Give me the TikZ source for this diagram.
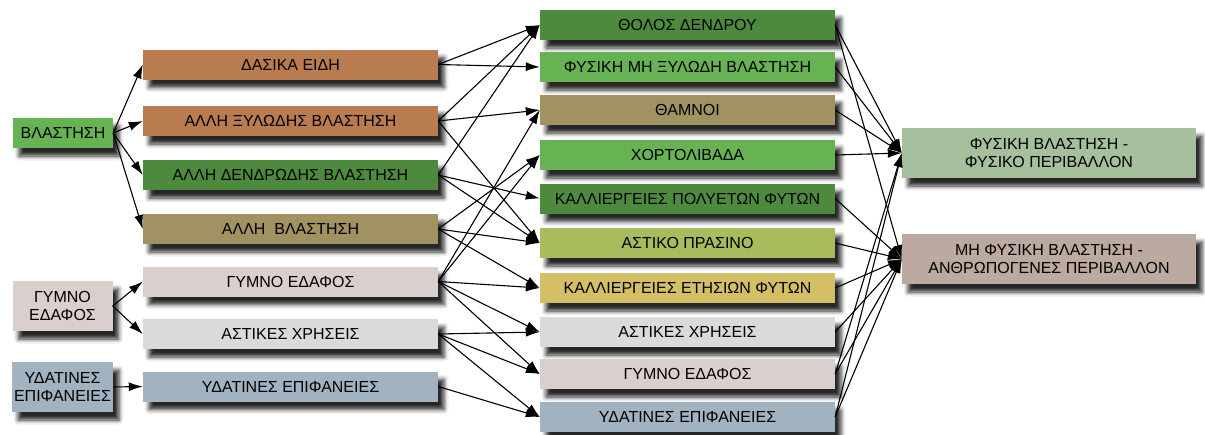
\documentclass[tikz,border=0pt]{standalone}
\usepackage{fontspec}
\setmainfont{Liberation Sans}
\usetikzlibrary{arrows.meta,shadows.blur}

\definecolor{cGreen}{HTML}{67B253}
\definecolor{cBrown}{HTML}{B97C50}
\definecolor{cDark}{HTML}{4E8A3E}
\definecolor{cKhaki}{HTML}{A09261}
\definecolor{cSoil}{HTML}{D9D0CD}
\definecolor{cUrban}{HTML}{DADADA}
\definecolor{cWater}{HTML}{A1B3C0}
\definecolor{cLime}{HTML}{A7BC5C}
\definecolor{cMustard}{HTML}{D5BF66}
\definecolor{cSage}{HTML}{A6BF9D}
\definecolor{cRose}{HTML}{BCA99F}

\begin{document}
\begin{tikzpicture}[x=1pt,y=-1pt,
  base/.style={inner sep=0pt, align=center,
    font=\fontsize{16}{18}\selectfont,
    blur shadow={shadow xshift=6pt, shadow yshift=-8pt,
      shadow blur radius=4.5pt, shadow opacity=85}},
  wide/.style={base, minimum width=295pt, minimum height=30pt},
  small/.style={base, minimum width=100pt, minimum height=30pt},
  tall/.style={base, minimum width=100pt, minimum height=50pt},
  goal/.style={base, minimum width=294pt, minimum height=50pt},
  link/.style={-{Latex[length=14pt,width=9pt]}, line width=1.1pt}
]
\useasboundingbox (0,0) rectangle (1205,434);

% source classes
\node[small, fill=cGreen] (veg) at (63,133) {ΒΛΑΣΤΗΣΗ};
\node[tall, fill=cSoil] (soil) at (62.5,306) {ΓΥΜΝΟ\\ΕΔΑΦΟΣ};
\node[tall, fill=cWater, minimum width=101pt] (water) at (62.5,387) {ΥΔΑΤΙΝΕΣ\\ΕΠΙΦΑΝΕΙΕΣ};

% intermediate classes
\node[wide, fill=cBrown] (l1) at (290.5,64.5) {ΔΑΣΙΚΑ ΕΙΔΗ};
\node[wide, fill=cBrown] (l2) at (290.5,121) {ΑΛΛΗ ΞΥΛΩΔΗΣ ΒΛΑΣΤΗΣΗ};
\node[wide, fill=cDark]  (l3) at (290.5,175) {ΑΛΛΗ ΔΕΝΔΡΩΔΗΣ ΒΛΑΣΤΗΣΗ};
\node[wide, fill=cKhaki] (l4) at (290.5,229) {ΑΛΛΗ\ \ ΒΛΑΣΤΗΣΗ};
\node[wide, fill=cSoil]  (l5) at (290.5,281.5) {ΓΥΜΝΟ ΕΔΑΦΟΣ};
\node[wide, fill=cUrban] (l6) at (290.5,334) {ΑΣΤΙΚΕΣ ΧΡΗΣΕΙΣ};
\node[wide, fill=cWater] (l7) at (290.5,386.5) {ΥΔΑΤΙΝΕΣ ΕΠΙΦΑΝΕΙΕΣ};

% detailed classes
\node[wide, fill=cDark]    (r1)  at (687.5,25)  {ΘΟΛΟΣ ΔΕΝΔΡΟΥ};
\node[wide, fill=cGreen]   (r2)  at (687.5,67)  {ΦΥΣΙΚΗ ΜΗ ΞΥΛΩΔΗ ΒΛΑΣΤΗΣΗ};
\node[wide, fill=cKhaki]   (r3)  at (687.5,110) {ΘΑΜΝΟΙ};
\node[wide, fill=cGreen]   (r4)  at (687.5,155) {ΧΟΡΤΟΛΙΒΑΔΑ};
\node[wide, fill=cDark]    (r5)  at (687.5,198.5) {ΚΑΛΛΙΕΡΓΕΙΕΣ ΠΟΛΥΕΤΩΝ ΦΥΤΩΝ};
\node[wide, fill=cLime]    (r6)  at (687.5,243) {ΑΣΤΙΚΟ ΠΡΑΣΙΝΟ};
\node[wide, fill=cMustard] (r7)  at (687.5,288) {ΚΑΛΛΙΕΡΓΕΙΕΣ ΕΤΗΣΙΩΝ ΦΥΤΩΝ};
\node[wide, fill=cUrban]   (r8)  at (687.5,332) {ΑΣΤΙΚΕΣ ΧΡΗΣΕΙΣ};
\node[wide, fill=cSoil]    (r9)  at (687.5,374) {ΓΥΜΝΟ ΕΔΑΦΟΣ};
\node[wide, fill=cWater]   (r10) at (687.5,417) {ΥΔΑΤΙΝΕΣ ΕΠΙΦΑΝΕΙΕΣ};

% environment classes
\node[goal, fill=cSage] (nat) at (1049,153) {ΦΥΣΙΚΗ ΒΛΑΣΤΗΣΗ -\\ΦΥΣΙΚΟ ΠΕΡΙΒΑΛΛΟΝ};
\node[goal, fill=cRose] (art) at (1049,259) {ΜΗ ΦΥΣΙΚΗ ΒΛΑΣΤΗΣΗ -\\ΑΝΘΡΩΠΟΓΕΝΕΣ ΠΕΡΙΒΑΛΛΟΝ};

% first split
\foreach \t in {l1,l2,l3,l4} \draw[link] (veg.east) -- (\t.west);
\foreach \t in {l5,l6} \draw[link] (soil.east) -- (\t.west);
\draw[link] (water.east) -- (l7.west);

% second split
\foreach \s/\t in {l1/r1,l1/r2,
                   l2/r1,l2/r3,l2/r6,
                   l3/r1,l3/r5,l3/r6,
                   l4/r4,l4/r6,l4/r7,
                   l5/r3,l5/r4,l5/r7,l5/r8,l5/r9,
                   l6/r8,l6/r9,l6/r10,
                   l7/r10}
  \draw[link] (\s.east) -- (\t.west);

% grouping into environments
\foreach \s in {r1,r2,r3,r4,r9,r10} \draw[link] (\s.east) -- (nat.west);
\foreach \s in {r1,r5,r6,r7,r8,r9,r10} \draw[link] (\s.east) -- (art.west);
\end{tikzpicture}
\end{document}
